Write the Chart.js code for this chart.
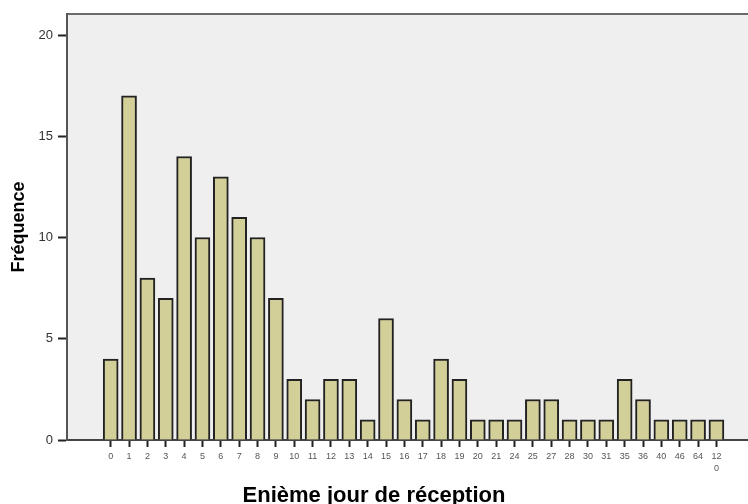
<!DOCTYPE html>
<html>
<head>
<meta charset="utf-8">
<script src="https://cdn.jsdelivr.net/npm/chart.js@4.4.0/dist/chart.umd.min.js"></script>
<style>
  html, body { margin: 0; padding: 0; background: #fff; }
</style>
</head>
<body>
<canvas id="myChart" width="748" height="504"></canvas>
<script>
// day number on which each answer came back, and how many answers per day
var days = ['0','1','2','3','4','5','6','7','8','9','10','11','12','13','14','15','16','17',
            '18','19','20','21','24','25','27','28','30','31','35','36','40','46','64','120'];
var counts = [4,17,8,7,14,10,13,11,10,7,3,2,3,3,1,6,2,1,
              4,3,1,1,1,2,2,1,1,1,3,2,1,1,1,1];
var freqTicks = [0,5,10,15,20];

var FONT = 'Liberation Sans, Arial, sans-serif';

// grey plot background plus the top frame line
const plotFrame = {
  id: 'plotFrame',
  beforeDraw(chart) {
    const {ctx, chartArea: {left, top, right, bottom}} = chart;
    ctx.save();
    ctx.fillStyle = '#efefef';
    ctx.fillRect(left, top, right - left, bottom - top);
    ctx.strokeStyle = '#6a6a6a';
    ctx.lineWidth = 2;
    ctx.beginPath();
    ctx.moveTo(left, top);
    ctx.lineTo(right, top);
    ctx.stroke();
    ctx.restore();
  }
};

// x axis caption sits a bit left of the plot centre
const xCaption = {
  id: 'xCaption',
  afterDraw(chart) {
    const ctx = chart.ctx;
    ctx.save();
    ctx.font = 'bold 22px ' + FONT;
    ctx.fillStyle = '#000';
    ctx.textAlign = 'center';
    ctx.textBaseline = 'alphabetic';
    ctx.fillText('Enième jour de réception', 374, 502);
    ctx.restore();
  }
};

var points = counts.map(function (c, i) { return {x: i, y: c}; });

var ctx = document.getElementById('myChart').getContext('2d');
var myChart = new Chart(ctx, {
  type: 'bar',
  data: {
    datasets: [{
      label: 'Fréquence',
      data: points,
      backgroundColor: '#d3cf98',
      borderColor: '#222',
      borderWidth: 2,
      barThickness: 15
    }]
  },
  plugins: [plotFrame, xCaption],
  options: {
    responsive: false,
    animation: false,
    layout: { padding: { top: 14, right: 0, left: 0, bottom: 0 } },
    plugins: {
      legend: { display: false },
      tooltip: { enabled: false }
    },
    scales: {
      x: {
        type: 'linear',
        offset: false,
        min: -2.38,
        max: 34.72,
        afterBuildTicks: function (scale) {
          scale.ticks = days.map(function (_, i) { return {value: i}; });
        },
        afterFit: function (scale) { scale.height = 64; },
        ticks: {
          autoSkip: false,
          maxRotation: 0,
          minRotation: 0,
          padding: 4,
          color: '#555',
          font: { family: FONT, size: 9, lineHeight: 1.3 },
          callback: function (v) {
            var s = days[v];
            return s.length > 2 ? [s.slice(0, 2), s.slice(2)] : s;
          }
        },
        grid: {
          offset: false,
          drawOnChartArea: false,
          drawTicks: true,
          tickLength: 7,
          tickColor: '#222',
          tickWidth: 2
        },
        border: { display: true, color: '#444', width: 2 }
      },
      y: {
        min: 0,
        max: 21.04,
        afterBuildTicks: function (scale) {
          scale.ticks = freqTicks.map(function (v) { return {value: v}; });
        },
        afterFit: function (scale) { scale.width = 67; },
        ticks: {
          padding: 5,
          color: '#333',
          font: { family: FONT, size: 13 }
        },
        grid: {
          drawOnChartArea: false,
          drawTicks: true,
          tickLength: 9,
          tickColor: '#222',
          tickWidth: 2
        },
        border: { display: true, color: '#555', width: 2 },
        title: {
          display: true,
          text: 'Fréquence',
          color: '#000',
          font: { family: FONT, size: 18, weight: 'bold' },
          padding: { top: 8, bottom: 0 }
        }
      }
    }
  }
});
</script>
</body>
</html>
